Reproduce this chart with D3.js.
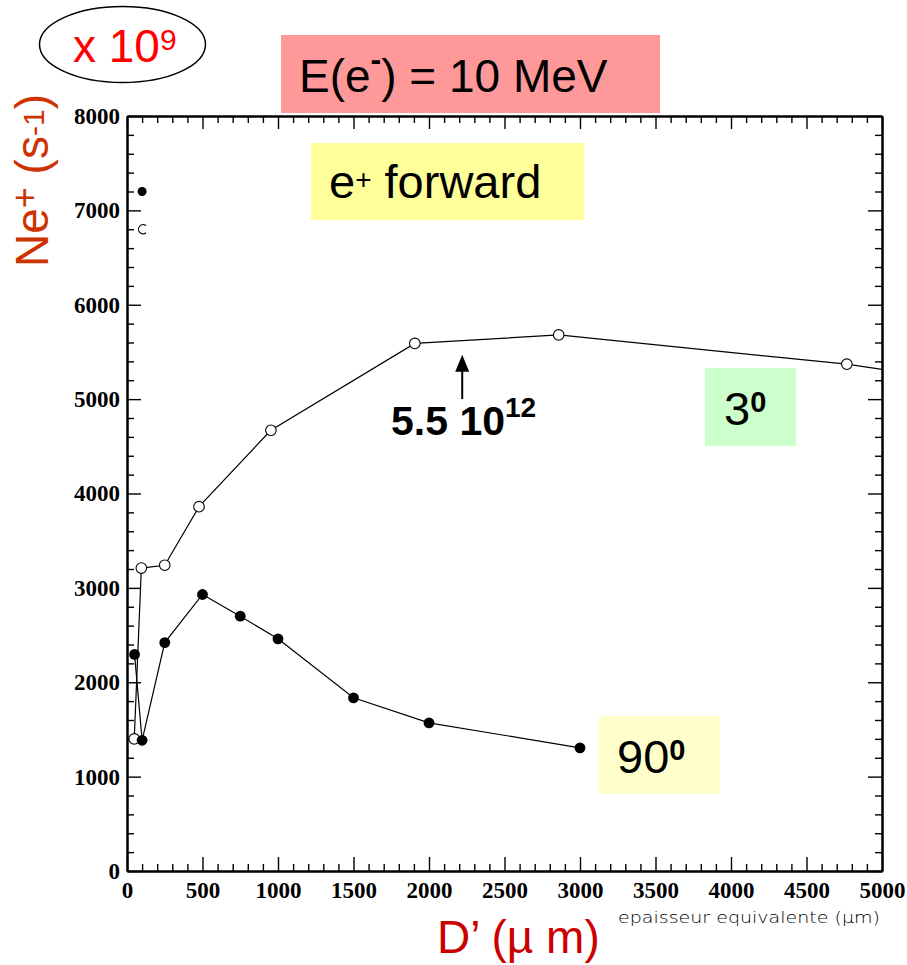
<!DOCTYPE html>
<html>
<head>
<meta charset="utf-8">
<script src="https://cdn.jsdelivr.net/npm/d3@7"></script>
<style>
  html, body { margin: 0; padding: 0; background: #fff; }
  svg { display: block; }
  .tick text { font-family: "Liberation Serif", "Times New Roman", serif; font-weight: bold; font-size: 23px; fill: #000; }
</style>
</head>
<body>
<script>
// Positron yield versus target thickness, E(e-) = 10 MeV
const xTicksMajor = [0, 500, 1000, 1500, 2000, 2500, 3000, 3500, 4000, 4500, 5000];
const yTicksMajor = [0, 1000, 2000, 3000, 4000, 5000, 6000, 7000, 8000];

// 3 degree acceptance (open circles), equivalent thickness in µm
const thick3 = [48, 95, 250, 477, 953, 1906, 2859, 4767, 5718];
const yield3 = [1400, 3210, 3240, 3860, 4670, 5590, 5680, 5370, 5150];

// 90 degree acceptance (filled circles)
const thick90 = [50, 100, 250, 500, 750, 1000, 1500, 2000, 3000];
const yield90 = [2295, 1385, 2420, 2930, 2700, 2460, 1835, 1570, 1305];

// marker key near the y axis
const keyFilled = { x: 100, y: 7200 };
const keyOpen = { x: 100, y: 6800 };

// arrow marking 5.5 10^12
const arrowX = 2220;
const arrowFrom = 5000;
const arrowTo = 5470;

const W = 907, H = 965;
const svg = d3.select("body").append("svg").attr("width", W).attr("height", H);

const x = d3.scaleLinear().domain([0, 5000]).range([127, 882]);
const y = d3.scaleLinear().domain([0, 8000]).range([871, 116]);

// clip for data
svg.append("clipPath").attr("id", "plotclip")
  .append("rect").attr("x", 127).attr("y", 116).attr("width", 755).attr("height", 755);

// axes: major and minor ticks, all pointing inward
function styleAxis(g) {
  g.select(".domain").attr("stroke", "#000").attr("stroke-width", 2);
  g.selectAll(".tick line").attr("stroke", "#000").attr("stroke-width", 1.4);
}
const minorX = d3.range(0, 5001, 100).filter(v => v % 500 !== 0);
const minorY = d3.range(0, 8001, 200).filter(v => v % 1000 !== 0);

// bottom
svg.append("g").attr("transform", "translate(0,871)")
  .call(d3.axisBottom(x).tickValues(minorX).tickSize(-7).tickSizeOuter(0).tickFormat(""))
  .call(styleAxis);
svg.append("g").attr("transform", "translate(0,871)")
  .call(d3.axisBottom(x).tickValues(xTicksMajor).tickSize(-14).tickSizeOuter(0).tickPadding(11).tickFormat(d3.format("d")))
  .call(styleAxis);
// top
svg.append("g").attr("transform", "translate(0,116)")
  .call(d3.axisTop(x).tickValues(minorX).tickSize(-7).tickSizeOuter(0).tickFormat(""))
  .call(styleAxis);
svg.append("g").attr("transform", "translate(0,116)")
  .call(d3.axisTop(x).tickValues(xTicksMajor).tickSize(-13).tickSizeOuter(0).tickFormat(""))
  .call(styleAxis);
// left
svg.append("g").attr("transform", "translate(127,0)")
  .call(d3.axisLeft(y).tickValues(minorY).tickSize(-7).tickSizeOuter(0).tickFormat(""))
  .call(styleAxis);
svg.append("g").attr("transform", "translate(127,0)")
  .call(d3.axisLeft(y).tickValues(yTicksMajor).tickSize(-14).tickSizeOuter(0).tickPadding(7).tickFormat(d3.format("d")))
  .call(styleAxis);
// right
svg.append("g").attr("transform", "translate(882,0)")
  .call(d3.axisRight(y).tickValues(minorY).tickSize(-7).tickSizeOuter(0).tickFormat(""))
  .call(styleAxis);
svg.append("g").attr("transform", "translate(882,0)")
  .call(d3.axisRight(y).tickValues(yTicksMajor).tickSize(-14).tickSizeOuter(0).tickFormat(""))
  .call(styleAxis);

// data lines
const plot = svg.append("g").attr("clip-path", "url(#plotclip)");
const line = d3.line().x(d => x(d[0])).y(d => y(d[1]));
const pts3 = thick3.map((t, i) => [t, yield3[i]]);
const pts90 = thick90.map((t, i) => [t, yield90[i]]);

plot.append("path").attr("d", line(pts3)).attr("fill", "none").attr("stroke", "#000").attr("stroke-width", 1.2);
plot.append("path").attr("d", line(pts90)).attr("fill", "none").attr("stroke", "#000").attr("stroke-width", 1.2);

plot.selectAll("circle.open").data(pts3).enter().append("circle")
  .attr("cx", d => x(d[0])).attr("cy", d => y(d[1])).attr("r", 5.3)
  .attr("fill", "#fff").attr("stroke", "#000").attr("stroke-width", 1.1);
plot.selectAll("circle.filled").data(pts90).enter().append("circle")
  .attr("cx", d => x(d[0])).attr("cy", d => y(d[1])).attr("r", 5.4)
  .attr("fill", "#000");

// marker key
svg.append("circle").attr("cx", x(keyFilled.x)).attr("cy", y(keyFilled.y)).attr("r", 4.5).attr("fill", "#000");
const cp = d3.path();
cp.arc(x(keyOpen.x) + 1, y(keyOpen.y), 4.6, -Math.PI * 0.28, Math.PI * 0.28, true);
svg.append("path").attr("d", cp.toString()).attr("fill", "none").attr("stroke", "#000").attr("stroke-width", 1.1);

// arrow annotation
svg.append("line").attr("x1", x(arrowX)).attr("x2", x(arrowX))
  .attr("y1", y(arrowFrom)).attr("y2", y(arrowTo) + 14)
  .attr("stroke", "#000").attr("stroke-width", 2);
svg.append("path")
  .attr("d", `M${x(arrowX)},${y(arrowTo)} L${x(arrowX) - 7},${y(arrowTo) + 17} L${x(arrowX) + 7},${y(arrowTo) + 17} Z`)
  .attr("fill", "#000");

const sans = "'Liberation Sans', Arial, sans-serif";

const t55 = svg.append("text").attr("x", 391).attr("y", 435)
  .attr("font-family", sans).attr("font-weight", "bold").attr("font-size", 41).attr("fill", "#000");
t55.append("tspan").text("5.5 10");
t55.append("tspan").attr("dy", -18).attr("font-size", 28).text("12");

// coloured label boxes
function box(x0, y0, w, h, color) {
  svg.append("rect").attr("x", x0).attr("y", y0).attr("width", w).attr("height", h).attr("fill", color);
}
box(281, 35, 379, 78, "#ff9999");
box(311, 143, 273, 77, "#ffff99");
box(705, 368, 91, 78, "#ccffcc");
box(599, 716, 121, 78, "#ffffcc");

const tE = svg.append("text").attr("x", 299).attr("y", 92)
  .attr("font-family", sans).attr("font-size", 46).attr("fill", "#000");
tE.append("tspan").text("E(e");
tE.append("tspan").attr("dy", -22).attr("font-size", 32).attr("font-weight", "bold").text("-");
tE.append("tspan").attr("dy", 22).text(") = 10 MeV");

const tF = svg.append("text").attr("x", 329).attr("y", 198)
  .attr("font-family", sans).attr("font-size", 47).attr("fill", "#000");
tF.append("tspan").text("e");
tF.append("tspan").attr("dy", -9).attr("font-size", 28).text("+");
tF.append("tspan").attr("dy", 9).text(" forward");

const t3 = svg.append("text").attr("x", 724).attr("y", 425)
  .attr("font-family", sans).attr("font-size", 47).attr("fill", "#000");
t3.append("tspan").text("3");
t3.append("tspan").attr("dy", -13).attr("font-size", 29).attr("font-weight", "bold").text("0");

const t90 = svg.append("text").attr("x", 617).attr("y", 773)
  .attr("font-family", sans).attr("font-size", 47).attr("fill", "#000");
t90.append("tspan").text("90");
t90.append("tspan").attr("dy", -13).attr("font-size", 29).attr("font-weight", "bold").text("0");

// scale factor in ellipse
svg.append("ellipse").attr("cx", 122.5).attr("cy", 44.5).attr("rx", 83).attr("ry", 38)
  .attr("fill", "none").attr("stroke", "#000").attr("stroke-width", 1.5);
const tX = svg.append("text").attr("x", 73).attr("y", 62)
  .attr("font-family", sans).attr("font-size", 46).attr("fill", "#ff0000");
tX.append("tspan").text("x 10");
tX.append("tspan").attr("dy", -12).attr("font-size", 30).text("9");

// axis titles
const tY = svg.append("text").attr("transform", "translate(48,267) rotate(-90)")
  .attr("font-family", sans).attr("font-size", 46).attr("fill", "#cc3300");
tY.append("tspan").text("Ne");
tY.append("tspan").attr("dy", -11).attr("font-size", 36).text("+");
tY.append("tspan").attr("dy", 11).text(" (s");
tY.append("tspan").attr("dy", -4).attr("font-size", 30).text("-1");
tY.append("tspan").attr("dy", 4).text(")");

svg.append("text").attr("x", 437).attr("y", 953)
  .attr("font-family", sans).attr("font-size", 46).attr("fill", "#cc0000")
  .text("D\u2019 (\u00b5 m)");

svg.append("text").attr("x", 618).attr("y", 923)
  .attr("font-family", "'DejaVu Sans', sans-serif").attr("font-weight", 300).attr("font-size", 16)
  .attr("textLength", 262).attr("lengthAdjust", "spacingAndGlyphs")
  .attr("fill", "#000").text("epaisseur equivalente (\u00b5m)");
</script>
</body>
</html>
